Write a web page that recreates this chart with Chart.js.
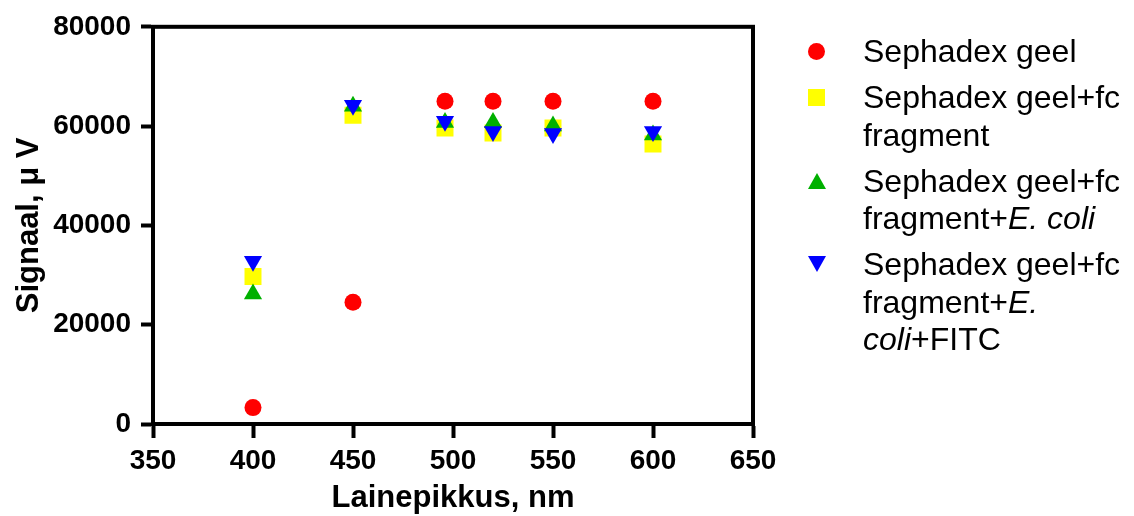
<!DOCTYPE html>
<html>
<head>
<meta charset="utf-8">
<script src="https://cdn.jsdelivr.net/npm/chart.js@4"></script>
<style>
  html, body { margin: 0; padding: 0; background: #fff; }
  #wrap { position: relative; width: 1134px; height: 516px; font-family: "Liberation Sans", Arial, sans-serif; }
  #chart { position: absolute; left: 0; top: 0; }
  #legend { position: absolute; left: 800px; top: 33px; }
  .item { position: relative; font-size: 32px; line-height: 37.5px; padding-left: 63px; margin-bottom: 8.5px; color: #000; white-space: nowrap; }
  .mark { position: absolute; left: 8px; top: 10px; }
</style>
</head>
<body>
<div id="wrap">
  <canvas id="chart" width="1134" height="516"></canvas>
  <div id="legend"></div>
</div>
<script>
// wavelength, nm
const wavelengths = [400, 450, 496, 520, 550, 600];

// signal, uV
const gelOnly = [3300, 24500, 65000, 65000, 65000, 65000];
const gelFc = [29700, 62200, 59600, 58600, 59600, 56400];
const gelFcEcoli = [26200, 64000, 60700, 60700, 60000, 58200];
const gelFcEcoliFitc = [32800, 64200, 61000, 58900, 58500, 58900];

const seriesLabels = [
  'Sephadex geel',
  'Sephadex geel+fc<br>fragment',
  'Sephadex geel+fc<br>fragment+<i>E. coli</i>',
  'Sephadex geel+fc<br>fragment+<i>E.</i><br><i>coli</i>+FITC'
];
const seriesColors = ['#ff0000', '#ffff00', '#00b000', '#0000ff'];

const xTicks = [350, 400, 450, 500, 550, 600, 650];
const yTicks = [0, 20000, 40000, 60000, 80000];

function pts(vals) {
  return vals.map((v, i) => ({ x: wavelengths[i], y: v }));
}

const styles = [
  { pointStyle: 'circle', pointRadius: 8.5, rotation: 0 },
  { pointStyle: 'rect', pointRadius: 12, rotation: 0 },
  { pointStyle: 'triangle', pointRadius: 10.5, rotation: 0 },
  { pointStyle: 'triangle', pointRadius: 10.5, rotation: 180 }
];
const allSeries = [gelOnly, gelFc, gelFcEcoli, gelFcEcoliFitc];

const datasets = allSeries.map((s, i) => ({
  label: seriesLabels[i].replace(/<[^>]+>/g, ' '),
  data: pts(s),
  backgroundColor: seriesColors[i],
  borderColor: seriesColors[i],
  borderWidth: 0,
  pointStyle: styles[i].pointStyle,
  pointRadius: styles[i].pointRadius,
  pointHoverRadius: styles[i].pointRadius,
  rotation: styles[i].rotation,
  order: 4 - i
}));

// box around the plot area
const frame = {
  id: 'frame',
  beforeDatasetsDraw(chart) {
    const a = chart.chartArea;
    const ctx = chart.ctx;
    ctx.save();
    ctx.strokeStyle = '#000';
    ctx.lineWidth = 4;
    ctx.strokeRect(a.left, a.top, a.right - a.left, a.bottom - a.top);
    ctx.restore();
  }
};

const tickFont = { family: '"Liberation Sans", Arial, sans-serif', size: 28, weight: 'bold' };
const titleFont = { family: '"Liberation Sans", Arial, sans-serif', size: 31, weight: 'bold', lineHeight: 1 };

new Chart(document.getElementById('chart'), {
  type: 'scatter',
  data: { datasets: datasets },
  plugins: [frame],
  options: {
    responsive: false,
    animation: false,
    layout: { padding: { left: 0, top: 24, right: 381, bottom: 0 } },
    plugins: { legend: { display: false }, tooltip: { enabled: false } },
    scales: {
      x: {
        type: 'linear',
        min: 350, max: 650,
        afterFit(scale) { scale.height = 92; },
        afterBuildTicks(scale) { scale.ticks = xTicks.map(v => ({ value: v })); },
        border: { display: true, color: '#000', width: 4 },
        grid: { drawOnChartArea: false, drawTicks: true, tickLength: 14, tickWidth: 4, tickColor: '#000' },
        ticks: { color: '#000', font: tickFont, padding: 6, maxRotation: 0, callback: v => String(v) },
        title: { display: true, text: 'Lainepikkus, nm', color: '#000', font: titleFont, padding: { top: 0, bottom: 2 } }
      },
      y: {
        type: 'linear',
        min: 0, max: 80000,
        afterFit(scale) { scale.width = 153; },
        afterBuildTicks(scale) { scale.ticks = yTicks.map(v => ({ value: v })); },
        border: { display: true, color: '#000', width: 4 },
        grid: { drawOnChartArea: false, drawTicks: true, tickLength: 12, tickWidth: 4, tickColor: '#000' },
        ticks: { color: '#000', font: tickFont, padding: 10, callback: v => String(v) },
        title: { display: true, text: 'Signaal, \u03bc V', color: '#000', font: titleFont, padding: { top: 14, bottom: 0 } }
      }
    }
  }
});

// legend as html, so the species name can be italic
const markCss = [
  'width:17px;height:17px;border-radius:50%;background:' + seriesColors[0] + ';',
  'width:17px;height:17px;background:' + seriesColors[1] + ';',
  'width:0;height:0;border-left:9px solid transparent;border-right:9px solid transparent;border-bottom:16px solid ' + seriesColors[2] + ';',
  'width:0;height:0;border-left:9px solid transparent;border-right:9px solid transparent;border-top:16px solid ' + seriesColors[3] + ';'
];
const legendEl = document.getElementById('legend');
seriesLabels.forEach((lab, i) => {
  const d = document.createElement('div');
  d.className = 'item';
  d.innerHTML = '<span class="mark" style="' + markCss[i] + '"></span>' + lab;
  legendEl.appendChild(d);
});
</script>
</body>
</html>
